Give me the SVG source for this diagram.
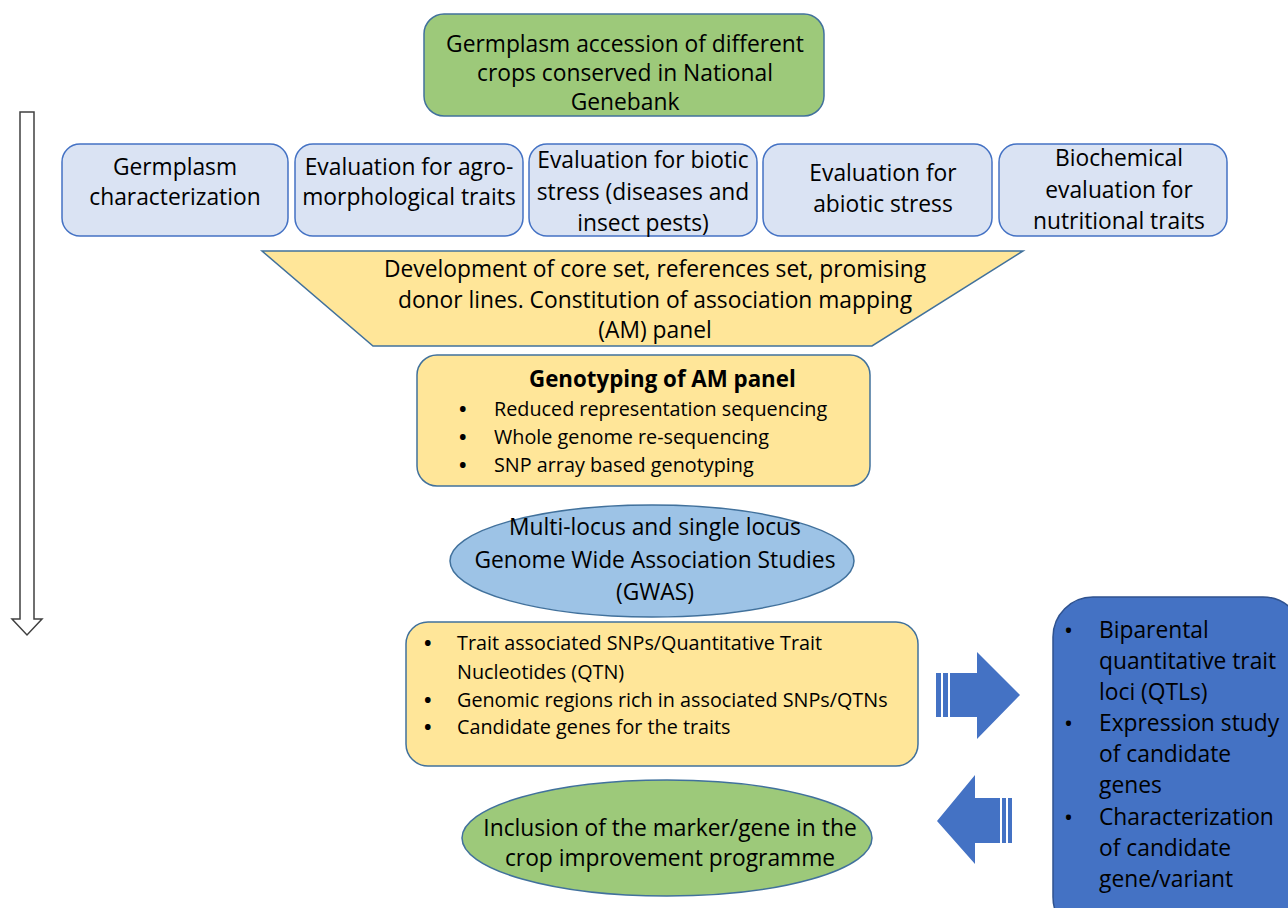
<svg xmlns="http://www.w3.org/2000/svg" width="1288" height="908" viewBox="0 0 1288 908">
<defs>
<style>
text{font-family:"Open Sans","Liberation Sans",sans-serif;fill:#000;}
.t22{font-size:22.8px;text-anchor:middle;}
.t19{font-size:19.8px;}
.b{font-size:20px;font-weight:bold;}
.bb{font-size:24px;}
.blue{fill:#dae3f3;stroke:#4472c4;stroke-width:1.5;}
.yel{fill:#ffe699;stroke:#41719c;stroke-width:1.5;}
.grn{fill:#9dc97a;stroke:#41719c;stroke-width:1.5;}
.sky{fill:#9dc3e6;stroke:#41719c;stroke-width:1.5;}
.dark{fill:#4472c4;stroke:#2f528f;stroke-width:1.5;}
.arr{fill:#4472c4;}
</style>
</defs>
<rect width="1288" height="908" fill="#fff"/>
<g id="connectors">
<path d="M20,112 H34 V619 H42 L27,635 L12,619 H20 Z" fill="#fff" stroke="#404040" stroke-width="1.5"/>
<g id="arrow-right">
<rect class="arr" x="936" y="673" width="5" height="44"/>
<rect class="arr" x="943" y="673" width="5" height="44"/>
<path class="arr" d="M950,673 H977 V652 L1020,695 L977,739 V717 H950 Z"/>
</g>
<g id="arrow-left">
<rect class="arr" x="1008" y="798" width="4" height="45"/>
<rect class="arr" x="1002" y="798" width="4" height="45"/>
<path class="arr" d="M1000,798 H975 V775 L937,821 L975,864 V843 H1000 Z"/>
</g>
</g>
<g id="n-germplasm">
<rect class="grn" x="424" y="14" width="400" height="102" rx="20"/>
<text class="t22" x="625" y="52">Germplasm accession of different</text>
<text class="t22" x="625" y="81">crops conserved in National</text>
<text class="t22" x="625" y="110">Genebank</text>
</g>
<g id="n-char">
<rect class="blue" x="62" y="144" width="226" height="92" rx="18"/>
<text class="t22" x="175" y="175">Germplasm</text>
<text class="t22" x="175" y="205">characterization</text>
</g>
<g id="n-agro">
<rect class="blue" x="295" y="144" width="228" height="92" rx="18"/>
<text class="t22" x="409" y="175">Evaluation for agro-</text>
<text class="t22" x="409" y="205">morphological traits</text>
</g>
<g id="n-biotic">
<rect class="blue" x="529" y="144" width="228" height="92" rx="18"/>
<text class="t22" x="643" y="168">Evaluation for biotic</text>
<text class="t22" x="643" y="200">stress (diseases and</text>
<text class="t22" x="643" y="231">insect pests)</text>
</g>
<g id="n-abiotic">
<rect class="blue" x="763" y="144" width="229" height="92" rx="18"/>
<text class="t22" x="883" y="181">Evaluation for</text>
<text class="t22" x="883" y="212">abiotic stress</text>
</g>
<g id="n-biochem">
<rect class="blue" x="999" y="144" width="228" height="92" rx="18"/>
<text class="t22" x="1119" y="166">Biochemical</text>
<text class="t22" x="1119" y="198">evaluation for</text>
<text class="t22" x="1119" y="229">nutritional traits</text>
</g>
<g id="n-core">
<path class="yel" d="M262,251 H1023 L872,346 H373 Z" stroke="#4472c4"/>
<text class="t22" x="655" y="277">Development of core set, references set, promising</text>
<text class="t22" x="655" y="308">donor lines. Constitution of association mapping</text>
<text class="t22" x="655" y="338">(AM) panel</text>
</g>
<g id="n-genotyping">
<rect class="yel" x="417" y="355" width="453" height="131" rx="20"/>
<text x="529" y="387" style="font-size:22.3px;font-weight:bold">Genotyping of AM panel</text>
<text class="b" x="459" y="416">•</text><text class="t19" x="494" y="416">Reduced representation sequencing</text>
<text class="b" x="459" y="444">•</text><text class="t19" x="494" y="444">Whole genome re-sequencing</text>
<text class="b" x="459" y="472">•</text><text class="t19" x="494" y="472">SNP array based genotyping</text>
</g>
<g id="n-gwas">
<ellipse class="sky" cx="652" cy="561" rx="202" ry="56"/>
<text class="t22" x="655" y="535">Multi-locus and single locus</text>
<text class="t22" x="655" y="568">Genome Wide Association Studies</text>
<text class="t22" x="655" y="600">(GWAS)</text>
</g>
<g id="n-results">
<rect class="yel" x="406" y="622" width="512" height="144" rx="22"/>
<text class="b" x="424" y="650">•</text><text class="t19" x="457" y="650">Trait associated SNPs/Quantitative Trait</text>
<text class="t19" x="457" y="679">Nucleotides (QTN)</text>
<text class="b" x="424" y="707">•</text><text class="t19" x="457" y="707">Genomic regions rich in associated SNPs/QTNs</text>
<text class="b" x="424" y="734">•</text><text class="t19" x="457" y="734">Candidate genes for the traits</text>
</g>
<g id="n-validation">
<rect class="dark" x="1053" y="597" width="250" height="340" rx="40"/>
<g style="font-size:22.8px">
<text class="bb" x="1064" y="639">•</text><text x="1099" y="638">Biparental</text>
<text x="1099" y="669">quantitative trait</text>
<text x="1099" y="700">loci (QTLs)</text>
<text class="bb" x="1064" y="732">•</text><text x="1099" y="731">Expression study</text>
<text x="1099" y="762">of candidate</text>
<text x="1099" y="793">genes</text>
<text class="bb" x="1064" y="826">•</text><text x="1099" y="825">Characterization</text>
<text x="1099" y="856">of candidate</text>
<text x="1099" y="887">gene/variant</text>
</g>
</g>
<g id="n-inclusion">
<ellipse class="grn" cx="667" cy="838" rx="205" ry="58"/>
<text class="t22" x="670" y="836">Inclusion of the marker/gene in the</text>
<text class="t22" x="670" y="866">crop improvement programme</text>
</g>
</svg>
